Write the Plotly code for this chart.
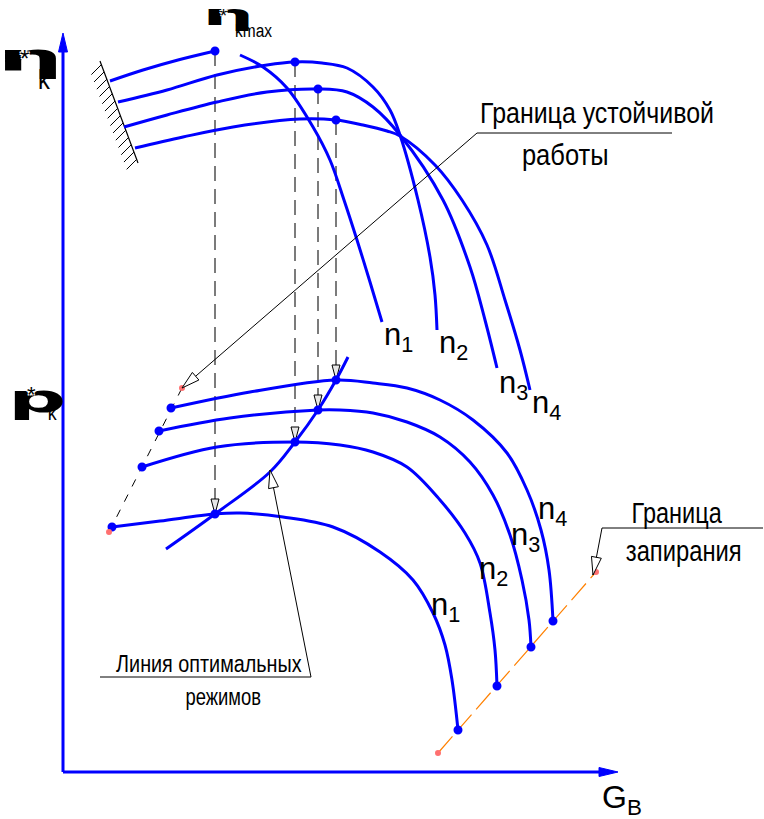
import json
import plotly.graph_objects as go

# ---------------------------------------------------------------------------
# Compressor map: efficiency eta*_k and pressure ratio p*_k vs. air flow G_B
# Units are schematic (0..~560 along G_B, 0..~740 along the vertical axis)
# ---------------------------------------------------------------------------

# efficiency branches (upper family)
eta_n1_left_G = [47, 80, 115, 152]
eta_n1_left_V = [691, 702, 712, 721]
eta_n1_right_G = [177, 200, 224, 250, 267, 281, 294, 307, 319]
eta_n1_right_V = [717, 705, 684, 645, 612, 572, 532, 490, 450]
eta_n2_G = [55, 104, 154, 204, 232, 259, 284, 310, 327, 337, 355, 367, 372, 374]
eta_n2_V = [670, 682, 697, 707, 710, 709, 704, 685, 662, 637, 572, 515, 477, 442]
eta_n3_G = [61, 104, 154, 204, 255, 284, 310, 337, 380, 407, 422, 434]
eta_n3_V = [645, 657, 670, 680, 683, 680, 665, 637, 572, 505, 452, 404]
eta_n4_G = [72, 120, 170, 237, 273, 300, 324, 337, 372, 399, 424, 442, 457, 467]
eta_n4_V = [624, 635, 645, 653, 652, 647, 641, 636, 607, 572, 527, 472, 422, 382]

# maxima of efficiency for n1..n4
eta_max_G = [152, 232, 255, 273]
eta_max_V = [721, 710, 683, 652]

# pressure-ratio characteristics (lower family)
p_n1_G = [49, 97, 152, 177, 220, 270, 317, 350, 370, 382, 389, 395]
p_n1_V = [245, 251, 258, 259, 255, 245, 220, 192, 159, 127, 92, 42]
p_n2_G = [79, 154, 232, 277, 310, 344, 377, 402, 417, 427, 432, 434]
p_n2_V = [305, 325, 330, 327, 320, 305, 272, 239, 209, 159, 122, 86]
p_n3_G = [96, 167, 255, 277, 310, 344, 377, 407, 430, 447, 459, 466, 468]
p_n3_V = [341, 354, 362, 362, 359, 350, 335, 310, 277, 237, 192, 152, 125]
p_n4_G = [108, 187, 273, 310, 344, 377, 410, 444, 464, 478, 486, 490]
p_n4_V = [364, 380, 392, 389, 384, 372, 352, 319, 282, 242, 202, 151]

# pressure ratio at the efficiency maximum (optimal regimes)
p_opt_V = [258, 330, 362, 392]

# line of optimal regimes
opt_G = [103, 152, 207, 232, 255, 273, 285]
opt_V = [223, 258, 300, 330, 362, 392, 415]

# surge (stability) boundary and choke boundary
surge_G = [46, 119]
surge_V = [240, 384]
choke_G = [375, 533]
choke_V = [19, 200]

# hatched wall limiting the efficiency curves on the left
wall_G = [37, 75]
wall_V = [711, 609]

speed_labels = ["1", "2", "3", "4"]

BLUE = "#0000ff"
TXT = "Liberation Sans, Arial, sans-serif"
SYM = "DejaVu Sans, sans-serif"
HALO = "white 1px 1px 0, white -1px -1px 0, white 1px -1px 0, white -1px 1px 0"

fig = go.Figure()


def line(xs, ys, color=BLUE, width=3, dash="solid", shape="spline"):
    fig.add_trace(go.Scatter(x=xs, y=ys, mode="lines", hoverinfo="skip",
                             line=dict(color=color, width=width, dash=dash,
                                       shape=shape, smoothing=1.0)))


def dots(xs, ys, color=BLUE, size=7, fill=None):
    fig.add_trace(go.Scatter(x=xs, y=ys, mode="markers", hoverinfo="skip",
                             marker=dict(size=size, color=fill or color,
                                         line=dict(color=color, width=2))))


def arrowhead(tip, src, length=15, half=4.5, fill="white", color="black", width=1):
    dx, dy = tip[0] - src[0], tip[1] - src[1]
    n = (dx * dx + dy * dy) ** 0.5
    ux, uy = dx / n, dy / n
    bx, by = tip[0] - ux * length, tip[1] - uy * length
    px, py = -uy * half, ux * half
    xs = [tip[0], bx + px, bx - px, tip[0]]
    ys = [tip[1], by + py, by - py, tip[1]]
    fig.add_trace(go.Scatter(x=xs, y=ys, mode="lines", fill="toself",
                             fillcolor=fill, hoverinfo="skip",
                             line=dict(color=color, width=width)))


# coordinate axes
line([0, 0], [0, 722], width=3, shape="linear")
line([0, 540], [0, 0], width=3, shape="linear")
arrowhead((0, 739), (0, 0), length=19, half=4.5, fill=BLUE, color=BLUE, width=1)
arrowhead((555, 0), (0, 0), length=19, half=4.5, fill=BLUE, color=BLUE, width=1)

# hatched wall
line(wall_G, wall_V, color="black", width=1.2, shape="linear")
nh = 14
for i in range(nh):
    t = (i + 0.5) / nh
    gx = wall_G[0] + t * (wall_G[1] - wall_G[0])
    gy = wall_V[0] + t * (wall_V[1] - wall_V[0])
    line([gx, gx - 10], [gy, gy - 10], color="black", width=1, shape="linear")

# projections of efficiency maxima onto the pressure characteristics
for g, v_top, v_bot in zip(eta_max_G, eta_max_V, p_opt_V):
    line([g, g], [v_top, v_bot + 14], color="#444444", width=1.4,
         dash="15px,8px", shape="linear")
    arrowhead((g, v_bot), (g, v_top), length=15, half=4, fill="#e8e8e8")

# surge boundary (dashed) and choke boundary (orange dashed)
line(surge_G, surge_V, color="black", width=1, dash="8px,9px", shape="linear")
line(choke_G, choke_V, color="#ff8000", width=1.2, dash="22px,7px", shape="linear")

# efficiency curves
line(eta_n1_left_G, eta_n1_left_V)
line(eta_n1_right_G, eta_n1_right_V)
line(eta_n2_G, eta_n2_V)
line(eta_n3_G, eta_n3_V)
line(eta_n4_G, eta_n4_V)

# pressure curves
line(p_n1_G, p_n1_V)
line(p_n2_G, p_n2_V)
line(p_n3_G, p_n3_V)
line(p_n4_G, p_n4_V)

# line of optimal regimes
line(opt_G, opt_V)

# markers: maxima, curve ends, optimal points
dots(eta_max_G, eta_max_V, size=7)
dots([p_n1_G[0], p_n2_G[0], p_n3_G[0], p_n4_G[0]],
     [p_n1_V[0], p_n2_V[0], p_n3_V[0], p_n4_V[0]], size=7)
dots([p_n1_G[-1], p_n2_G[-1], p_n3_G[-1], p_n4_G[-1]],
     [p_n1_V[-1], p_n2_V[-1], p_n3_V[-1], p_n4_V[-1]], size=7)
dots(eta_max_G, p_opt_V, size=7)
dots(surge_G + choke_G, surge_V + choke_V, color="#ff7070", size=4)

# leader lines with open arrowheads
line([609, 414, surge_G[1]], [639, 639, surge_V[1]], color="black", width=1, shape="linear")
arrowhead((surge_G[1], surge_V[1]), (414, 639), length=18, half=5)
line([700, 539, choke_G[1] - 3], [244, 244, choke_V[1] - 3], color="black", width=1, shape="linear")
arrowhead((choke_G[1] - 3, choke_V[1] - 3), (539, 244), length=18, half=5)
line([37, 248, 207], [95, 95, 302], color="black", width=1, shape="linear")
arrowhead((207, 302), (248, 95), length=18, half=5)

ann = []
# horizontal squeeze / stretch factor per text (narrow drafting lettering)
stretch = {}


def text(x, y, s, size, xanchor="center", yanchor="middle", family=TXT, k=None, shadow=None):
    font = dict(size=size, family=family, color="black")
    if shadow:
        font["shadow"] = shadow
    ann.append(dict(x=x, y=y, text=s, showarrow=False, xanchor=xanchor,
                    yanchor=yanchor, font=font))
    if k is not None:
        plain = s.replace("<b>", "").replace("</b>", "")
        stretch[plain] = k


# vertical axis labels
text(-33, 714, "<b>η</b>", 37, family=SYM, k=2.3)
text(-39, 714, "*", 24, shadow=HALO)
text(-19, 693, "k", 28, k=0.85)
text(-26, 373, "<b>p</b>", 37, family=SYM, k=2.2)
text(-32, 378, "*", 22, shadow=HALO)
text(-11, 360, "k", 21, k=0.85)
# eta max label
text(165, 757, "<b>η</b>", 29, family=SYM, k=2.5)
text(160, 756, "*", 18, shadow=HALO)
text(190, 741, "kmax", 18, k=0.86)
# abscissa label
text(537, -27, "G<sub>В</sub>", 32, xanchor="left")

# speed labels on the efficiency curves
for (x, y), s in zip([(319, 435), (374, 427), (434, 387), (467, 367)], speed_labels):
    text(x, y, "n<sub>" + s + "</sub>", 31, xanchor="left", yanchor="middle")
# speed labels on the pressure curves
for (x, y), s in zip([(366, 165), (414, 201), (446, 235), (473, 261)], speed_labels):
    text(x, y, "n<sub>" + s + "</sub>", 31, xanchor="left", yanchor="middle")

# callout texts
text(534, 659, "Граница устойчивой", 29, k=0.86)
text(502, 617, "работы", 29, k=0.88)
text(614, 259, "Граница", 29, k=0.81)
text(621, 221, "запирания", 29, k=0.82)
text(146, 108, "Линия оптимальных", 23, k=0.86)
text(160, 75, "режимов", 23, k=0.8)

fig.update_layout(
    width=764, height=819,
    margin=dict(l=0, r=0, t=0, b=0),
    paper_bgcolor="white", plot_bgcolor="white",
    showlegend=False,
    xaxis=dict(range=[-63, 701], visible=False, fixedrange=True),
    yaxis=dict(range=[-47, 772], visible=False, fixedrange=True),
    annotations=ann,
)

post = """
var gd = document.getElementById('{plot_id}');
var S = %s;
gd.querySelectorAll('text.annotation-text').forEach(function (t) {
  var k = S[t.textContent];
  if (!k) return;
  var L = t.getComputedTextLength();
  t.setAttribute('textLength', (L * k).toFixed(1));
  t.setAttribute('lengthAdjust', 'spacingAndGlyphs');
});
""" % json.dumps(stretch, ensure_ascii=False)

fig.write_html("out.html", post_script=post)
